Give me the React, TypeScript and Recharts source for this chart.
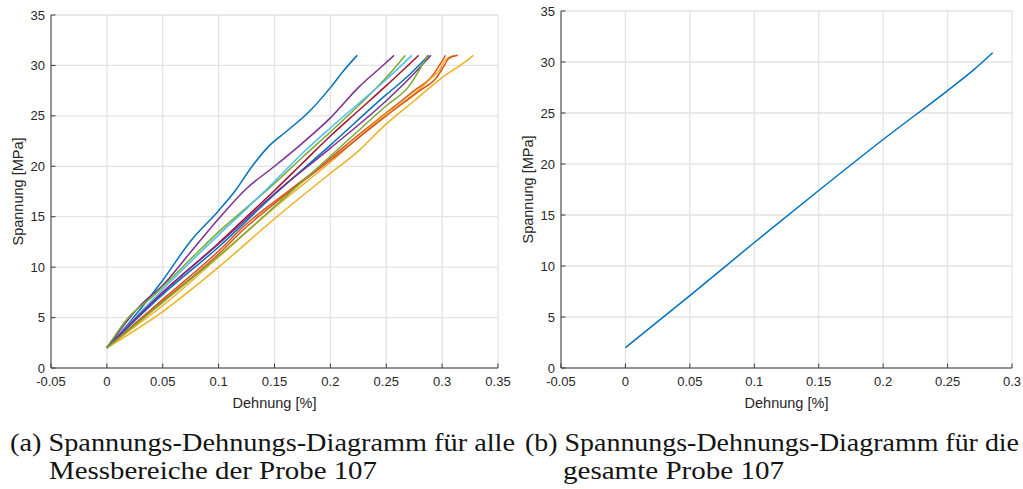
import { LineChart, Line, XAxis, YAxis, CartesianGrid } from "recharts";

type Pt = [number, number];

// MATLAB default colour order
const ORDER = ["#0072BD", "#D95319", "#EDB120", "#7E2F8E", "#77AC30", "#4DBEEE", "#A2142F"];
const AXIS = "#3c3c3c";
const TEXT = "#262626";
const GRID = "#e3e3e3";

const yTicks = [0, 5, 10, 15, 20, 25, 30, 35];
const xTicksA = [-0.05, 0, 0.05, 0.1, 0.15, 0.2, 0.25, 0.3, 0.35];
const xTicksB = [-0.05, 0, 0.05, 0.1, 0.15, 0.2, 0.25, 0.3];

// Messbereiche der Probe 107: [Dehnung %, Spannung MPa]
const mb1: Pt[] = [[0, 2], [0.02, 4.5], [0.05, 8.7], [0.075, 12.6], [0.1, 15.6], [0.115, 17.6], [0.13, 20.0], [0.145, 22.0], [0.16, 23.4], [0.18, 25.3], [0.2, 27.8], [0.212, 29.5], [0.224, 31]];
const mb2: Pt[] = [[0, 2], [0.025, 4.4], [0.05, 6.8], [0.1, 11.6], [0.125, 14.3], [0.15, 16.5], [0.175, 18.6], [0.2, 20.8], [0.225, 23.1], [0.25, 25.3], [0.275, 27.5], [0.29, 28.8], [0.303, 31]];
const mb3: Pt[] = [[0, 2], [0.025, 4.1], [0.05, 6.2], [0.1, 11], [0.15, 15.9], [0.2, 20.4], [0.25, 25.2], [0.275, 27.2], [0.29, 28.7], [0.298, 29.6], [0.302, 30.4], [0.311, 31]];
const mb4: Pt[] = [[0, 2], [0.03, 6.2], [0.05, 8.2], [0.075, 11.5], [0.1, 14.8], [0.125, 17.8], [0.15, 20], [0.175, 22.3], [0.2, 24.8], [0.225, 27.8], [0.245, 29.8], [0.257, 31]];
const mb5: Pt[] = [[0, 2], [0.02, 5.1], [0.04, 7], [0.075, 10.8], [0.1, 13.5], [0.125, 15.9], [0.15, 18.3], [0.175, 20.9], [0.2, 23.4], [0.225, 26], [0.25, 28.8], [0.267, 31]];
const mb6: Pt[] = [[0, 2], [0.05, 7.8], [0.1, 13.2], [0.125, 15.8], [0.15, 18.5], [0.175, 21.3], [0.2, 23.8], [0.225, 26.2], [0.25, 28.6], [0.273, 31]];
const mb7: Pt[] = [[0, 2], [0.05, 7.5], [0.1, 12.4], [0.125, 15], [0.15, 17.6], [0.175, 20.3], [0.2, 23], [0.225, 25.5], [0.25, 28], [0.279, 31]];
const mb8: Pt[] = [[0, 2], [0.05, 7.3], [0.1, 12], [0.15, 17.2], [0.2, 22.1], [0.25, 27.1], [0.27, 29], [0.288, 31]];
const mb9: Pt[] = [[0, 2], [0.05, 6.6], [0.1, 11.3], [0.125, 14], [0.15, 16.3], [0.2, 20.6], [0.25, 25], [0.28, 27.5], [0.295, 28.8], [0.302, 30], [0.306, 30.7], [0.314, 31]];
const mb10: Pt[] = [[0, 2], [0.05, 5.6], [0.1, 10], [0.15, 14.8], [0.2, 19.3], [0.225, 21.5], [0.25, 24.2], [0.275, 26.5], [0.3, 28.8], [0.32, 30.3], [0.328, 31]];
const mb11: Pt[] = [[0, 2], [0.05, 7.5], [0.1, 12.3], [0.15, 17.3], [0.2, 21.8], [0.25, 26.5], [0.275, 29.2], [0.29, 31]];
const mb12: Pt[] = [[0, 2], [0.05, 6.5], [0.1, 11.1], [0.15, 16], [0.2, 21], [0.25, 26], [0.27, 27.9], [0.287, 31]];

// gesamte Probe 107
const probe: Pt[] = [[0, 2], [0.05, 7.1], [0.1, 12.3], [0.15, 17.4], [0.2, 22.4], [0.25, 27.2], [0.27, 29.2], [0.285, 30.9]];

const messbereiche = [mb1, mb2, mb3, mb4, mb5, mb6, mb7, mb8, mb9, mb10, mb11, mb12];

const rows = (pts: Pt[]) => pts.map(([x, y]) => ({ x, y }));

const tickStyle = { fill: TEXT, fontSize: 13 };

// boxed axes with inward ticks (bottom/left labelled, top/right only frame)
function frame(xTicks: number[], xMax: number) {
  const common = { axisLine: { stroke: AXIS }, tickLine: { stroke: AXIS }, allowDataOverflow: true, tickSize: -4.5 };
  return [
    <CartesianGrid key="g" stroke={GRID} strokeWidth={1.3} />,
    <XAxis
      key="xb"
      dataKey="x"
      type="number"
      domain={[-0.05, xMax]}
      ticks={xTicks}
      interval={0}
      height={45}
      tickMargin={13.5}
      tick={tickStyle}
      label={{ value: "Dehnung [%]", position: "insideBottom", offset: 5, fill: TEXT, fontSize: 14.5 }}
      {...common}
    />,
    <XAxis key="xt" xAxisId="top" orientation="top" dataKey="x" type="number" domain={[-0.05, xMax]} ticks={xTicks} interval={0} height={0} tick={false} {...common} />,
    <YAxis
      key="yl"
      type="number"
      domain={[0, 35]}
      ticks={yTicks}
      interval={0}
      width={51}
      tickMargin={10.5}
      tick={tickStyle}
      label={{ value: "Spannung [MPa]", angle: -90, position: "insideLeft", offset: 18, fill: TEXT, fontSize: 14.5, style: { textAnchor: "middle" } }}
      {...common}
    />,
    <YAxis key="yr" yAxisId="right" orientation="right" type="number" domain={[0, 35]} ticks={yTicks} interval={0} width={0} tick={false} {...common} />,
  ];
}

const captionFont = { fontFamily: "'Liberation Serif', 'Times New Roman', serif", fontSize: 25, fill: "#141414" };

export default function App() {
  return (
    <div style={{ position: "absolute", left: 0, top: 0, width: 1023, height: 489, background: "#fff", fontFamily: "'Liberation Sans', Arial, sans-serif" }}>
      <div style={{ position: "absolute", left: 0, top: 0 }}>
        <LineChart width={520} height={413} margin={{ top: 15, right: 22, bottom: 0, left: 0 }}>
          {frame(xTicksA, 0.35)}
          {messbereiche.map((pts, i) => (
            <Line
              key={i}
              data={rows(pts)}
              dataKey="y"
              type="monotoneX"
              stroke={ORDER[i % ORDER.length]}
              strokeWidth={1.5}
              dot={false}
              isAnimationActive={false}
            />
          ))}
        </LineChart>
      </div>
      <div style={{ position: "absolute", left: 510, top: 0 }}>
        <LineChart width={513} height={413} margin={{ top: 11, right: 11, bottom: 0, left: 0 }}>
          {frame(xTicksB, 0.3)}
          <Line data={rows(probe)} dataKey="y" type="monotoneX" stroke={ORDER[0]} strokeWidth={1.5} dot={false} isAnimationActive={false} />
        </LineChart>
      </div>
      <svg width={1023} height={489} style={{ position: "absolute", left: 0, top: 0, pointerEvents: "none" }}>
        <text x={10} y={451} textLength={505} lengthAdjust="spacingAndGlyphs" {...captionFont}>
          (a) Spannungs-Dehnungs-Diagramm für alle
        </text>
        <text x={49} y={479} textLength={328} lengthAdjust="spacingAndGlyphs" {...captionFont}>
          Messbereiche der Probe 107
        </text>
        <text x={525} y={451} textLength={494} lengthAdjust="spacingAndGlyphs" {...captionFont}>
          (b) Spannungs-Dehnungs-Diagramm für die
        </text>
        <text x={563} y={479} textLength={221} lengthAdjust="spacingAndGlyphs" {...captionFont}>
          gesamte Probe 107
        </text>
      </svg>
    </div>
  );
}
